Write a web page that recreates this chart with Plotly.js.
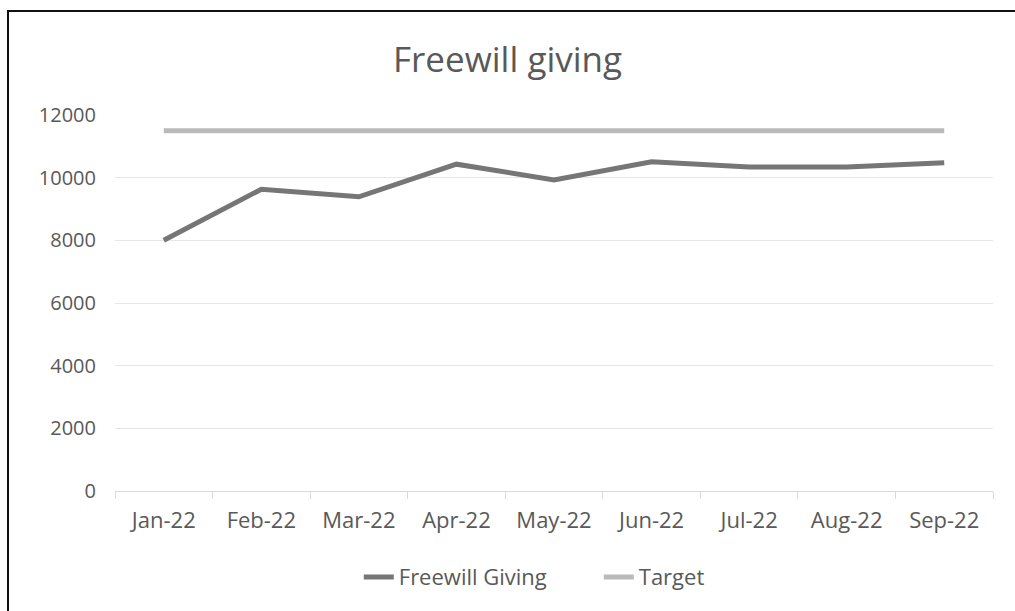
<!DOCTYPE html>
<html>
<head>
<meta charset="utf-8">
<script src="https://cdn.plot.ly/plotly-3.0.1.min.js"></script>
<style>
  html, body { margin: 0; padding: 0; background: #fff; overflow: hidden; }
  #chart { width: 1015px; height: 611px; position: absolute; left: 0; top: 0; }
  #frame { position: absolute; left: 7px; top: 10px; width: 3000px; height: 3000px;
           border-left: 2px solid #111; border-top: 2px solid #111; pointer-events: none; }
</style>
</head>
<body>
<div id="chart"></div>
<div id="frame"></div>
<script>
const months = ["Jan-22", "Feb-22", "Mar-22", "Apr-22", "May-22", "Jun-22", "Jul-22", "Aug-22", "Sep-22"];
const freewillGiving = [8000, 9630, 9390, 10430, 9930, 10510, 10340, 10340, 10480];
const target = [11500, 11500, 11500, 11500, 11500, 11500, 11500, 11500, 11500];
const yTicks = [0, 2000, 4000, 6000, 8000, 10000, 12000];

const FONT = "Open Sans, sans-serif";
const TXT = "#595959";

const traces = [
  {
    x: months, y: freewillGiving, name: "Freewill Giving", type: "scatter", mode: "lines",
    line: { color: "#767676", width: 5 }
  },
  {
    x: months, y: target, name: "Target", type: "scatter", mode: "lines",
    line: { color: "#BABABA", width: 5 }
  }
];

const layout = {
  width: 1015, height: 611,
  paper_bgcolor: "rgba(0,0,0,0)", plot_bgcolor: "#fff",
  margin: { l: 115, r: 22, t: 115, b: 120 },
  title: {
    text: "Freewill giving",
    font: { family: FONT, size: 35, color: TXT },
    x: 0.5, xanchor: "center", y: 0.902, yanchor: "middle"
  },
  xaxis: {
    type: "category",
    tickson: "boundaries",
    ticks: "outside", ticklen: 7, tickcolor: "#D9D9D9", tickwidth: 1,
    showline: true, linecolor: "#D9D9D9", linewidth: 1,
    showgrid: false, zeroline: false,
    tickfont: { family: FONT, size: 22, color: TXT },
    ticklabelstandoff: 10,
    range: [-0.5, 8.5]
  },
  yaxis: {
    range: [0, 12000],
    tickvals: yTicks, ticktext: yTicks.map(String),
    showgrid: true, gridcolor: "#E6E6E6", gridwidth: 1,
    zeroline: false, showline: false, ticks: "",
    tickfont: { family: FONT, size: 20, color: TXT },
    ticklabelstandoff: 18
  },
  showlegend: true,
  legend: {
    orientation: "h", x: 0.551, xanchor: "center", y: -0.229, yanchor: "middle",
    font: { family: FONT, size: 22, color: TXT },
    itemwidth: 30, traceorder: "normal",
    entrywidth: 195, entrywidthmode: "pixels"
  },
  hovermode: false
};

Plotly.newPlot("chart", traces, layout, { staticPlot: true, displayModeBar: false });
</script>
</body>
</html>
